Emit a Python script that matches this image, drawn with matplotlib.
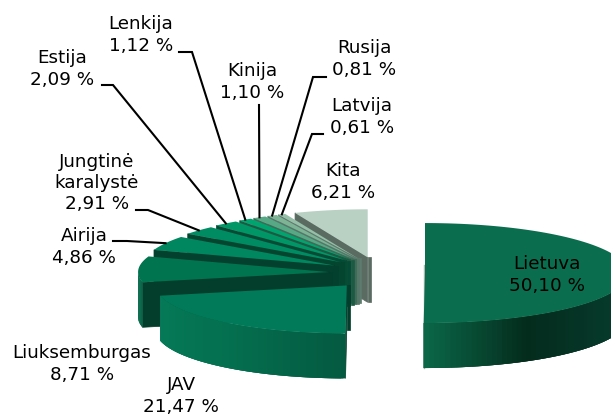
import numpy as np
import matplotlib
matplotlib.use('Agg')
import matplotlib.pyplot as plt
from matplotlib.colors import to_rgb

names = ['Lietuva', 'JAV', 'Liuksemburgas', 'Airija', 'Jungtinė\nkaralystė', 'Estija',
         'Lenkija', 'Kinija', 'Rusija', 'Latvija', 'Kita']
shares = [50.10, 21.47, 8.71, 4.86, 2.91, 2.09, 1.12, 1.10, 0.81, 0.61, 6.21]
value_labels = ['50,10 %', '21,47 %', '8,71 %', '4,86 %', '2,91 %', '2,09 %',
                '1,12 %', '1,10 %', '0,81 %', '0,61 %', '6,21 %']

top_colors = ['#0a6e4e', '#007a58', '#00734f', '#00875f', '#008c62', '#009666',
              '#00a46e', '#57a985', '#7db496', '#96bfa8', '#b8d1c3']
wall_colors = ['#04402c', '#033d2b', '#033d2b', '#03402d', '#03452f', '#054a34',
               '#1d5a44', '#3f6b58', '#55776a', '#5f7a6e', '#5a6b62']
# rim colours from the left end of the slice to the right end
rim_stops = {0: ['#0a6647', '#042c1d', '#06382a', '#073d2a'],
             1: ['#057a58', '#04704f', '#045a40'],
             2: ['#0c6e4c', '#0a7050', '#085f44']}

# where the label sits, and where its leader starts
label_pos = {0: (547, 275), 1: (181, 396), 2: (82, 364), 3: (84, 247), 4: (97, 183),
             5: (62, 69), 6: (141, 35), 7: (252, 82), 8: (364, 59), 9: (362, 117), 10: (343, 182)}
leaders = {3: [(113, 241), (127, 241)], 4: [(136, 210), (148, 210)], 5: [(102, 85), (113, 85)],
           6: [(179, 52), (192, 52)], 7: [(259, 105)], 8: [(326, 77), (313, 77)], 9: [(323, 134), (312, 134)]}

cx, cy = 377, 273
rx, ry = 191, 48
ex, ey = 48, 16
depth = 45

fig = plt.figure(figsize=(6.11, 4.16), dpi=100)
ax = fig.add_axes([0, 0, 1, 1])
ax.set_xlim(0, 611)
ax.set_ylim(416, 0)
ax.axis('off')

edges = np.radians(np.cumsum([0] + shares) / sum(shares) * 360)


def gradient(stops, t):
    rgb = np.array([to_rgb(c) for c in stops])
    pos = np.linspace(0, 1, len(rgb))
    return [np.interp(t, pos, rgb[:, k]) for k in range(3)]


for i in range(len(shares) - 1, -1, -1):
    start, end = edges[i], edges[i + 1]
    mid = (start + end) / 2
    x0 = cx + ex * np.sin(mid)
    y0 = cy - ey * np.cos(mid)
    a = 203 if i == 0 else rx
    b = 50 if i == 0 else ry
    th = np.linspace(start, end, 120)
    xs = x0 + a * np.sin(th)
    ys = y0 - b * np.cos(th)

    # radial wall, only the ones that face us
    if start > np.pi - 0.01:
        wx = [x0, xs[0], xs[0], x0]
        wy = [y0, ys[0], ys[0] + depth, y0 + depth]
        ax.fill(wx, wy, color=wall_colors[i], lw=0.5, zorder=i * -3)
        ax.fill([x0, x0 + 3, x0 + 3, x0], [y0, y0, y0 + depth, y0 + depth],
                color=wall_colors[i], lw=0.5, zorder=i * -3)

    # outer rim, each quad overlaps the next so no seams show
    front = (th >= np.pi / 2) & (th <= 3 * np.pi / 2)
    if front.sum() > 1:
        fx, fy = xs[front], ys[front]
        stops = rim_stops.get(i, [wall_colors[i], wall_colors[i]])
        for j in range(len(fx) - 1):
            t = j / (len(fx) - 2)
            k = min(j + 3, len(fx) - 1)
            ax.fill([fx[j], fx[k], fx[k], fx[j]],
                    [fy[j], fy[k], fy[k] + depth, fy[j] + depth],
                    color=gradient(stops, 1 - t), lw=0, zorder=i * -3 + 1)

    # top face
    ax.fill(np.r_[x0, xs], np.r_[y0, ys], color=top_colors[i], lw=0, zorder=i * -3 + 2)

    if i == 0:
        ax.plot([x0 - 0.5, x0 - 0.5], [y0 - 8, y0 + depth + 50], color='#b5b5b5', lw=1, zorder=-31)

    if i in leaders:
        px = x0 + a * np.sin(mid)
        py = y0 - b * np.cos(mid)
        pts = leaders[i] + [(px, py)]
        ax.plot([p[0] for p in pts], [p[1] for p in pts], color='black', lw=1.5,
                solid_joinstyle='miter', zorder=5)

for i, name in enumerate(names):
    ax.text(label_pos[i][0], label_pos[i][1], name + '\n' + value_labels[i], ha='center', va='center',
            fontsize=13.2, color='black', linespacing=1.22, zorder=6)

fig.savefig('out.png', dpi=100)
